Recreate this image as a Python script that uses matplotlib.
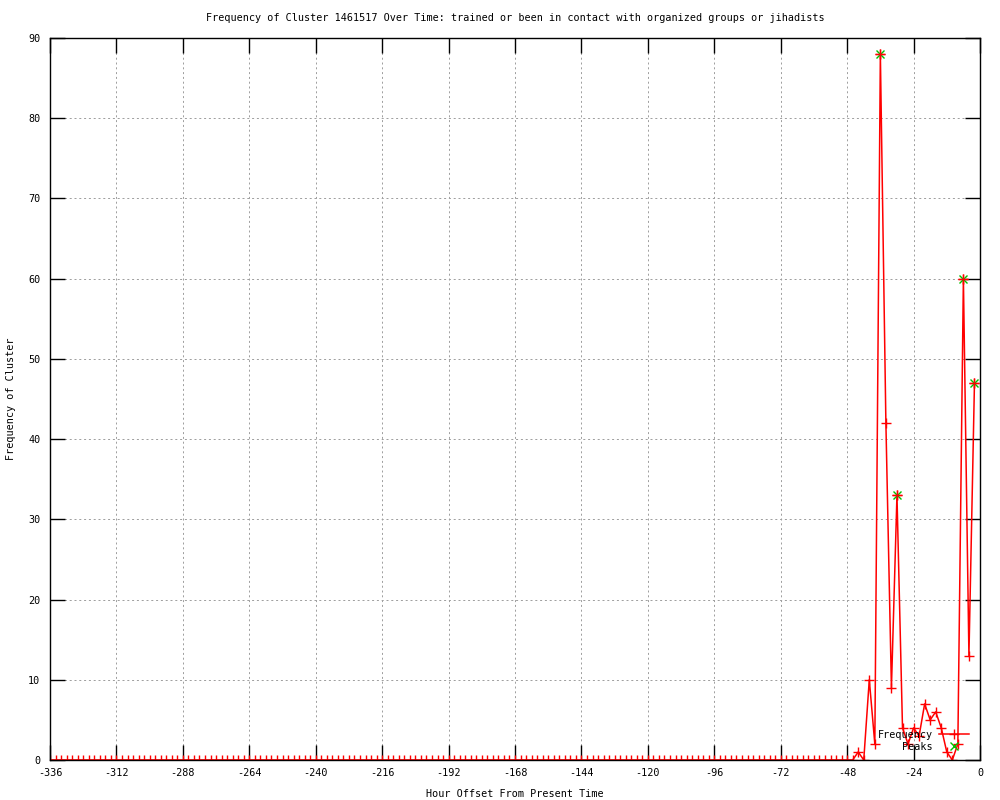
"""
Frequency of one cluster over time, gnuplot-style line + points chart.
Saves out.png (1000x800).
"""

import numpy as np
import matplotlib.pyplot as plt
from matplotlib.lines import Line2D

TITLE = ("Frequency of Cluster 1461517 Over Time: trained or been in contact "
         "with organized groups or jihadists")

# one sample every two hours, -336 .. -2
HOURS = np.arange(-336, 0, 2)
FREQ = [0] * 146 + [
    1, 0, 10, 2, 88, 42, 9, 33, 4, 2, 4,
    3, 7, 5, 6, 4, 1, 0, 2, 60, 13, 47,
]
PEAK_HOURS = [-36, -30, -6, -2]
PEAK_VALUES = [88, 33, 60, 47]

X_TICKS = list(range(-336, 1, 24))
Y_TICKS = list(range(0, 91, 10))

RED = "#ff0000"
GREEN = "#00c000"
FONT = "DejaVu Sans Mono"
FS = 7.3


def main():
    plt.rcParams["font.family"] = FONT
    fig = plt.figure(figsize=(10, 8), dpi=100)
    fig.patch.set_facecolor("white")
    ax = fig.add_axes([0.05, 0.05, 0.93, 0.9025])

    ax.plot(HOURS, FREQ, color=RED, linewidth=1.1, marker="+",
            markersize=7, markeredgewidth=1.0, zorder=2)
    ax.plot(PEAK_HOURS, PEAK_VALUES, linestyle="none", color=GREEN,
            marker="x", markersize=5.5, markeredgewidth=1.0, zorder=3)
    # red crosses sit on top of the green ones in the original
    ax.plot(PEAK_HOURS, PEAK_VALUES, linestyle="none", color=RED,
            marker="+", markersize=7, markeredgewidth=1.0, zorder=4)

    ax.set_xlim(-336, 0)
    ax.set_ylim(0, 90)
    ax.set_xticks(X_TICKS)
    ax.set_yticks(Y_TICKS)
    ax.set_xticklabels([str(t) for t in X_TICKS])
    ax.set_yticklabels([str(t) for t in Y_TICKS])

    ax.tick_params(direction="in", length=11, width=1, top=True, right=True,
                   labelsize=FS, colors="black")
    ax.tick_params(axis="x", pad=6)
    ax.tick_params(axis="y", pad=7)
    for s in ax.spines.values():
        s.set_linewidth(1.0)
        s.set_color("black")

    ax.grid(True, color="#a0a0a0", linewidth=0.72,
            linestyle=(0, (2.0, 2.8)))
    ax.set_axisbelow(True)

    ax.set_title(TITLE, fontsize=FS, pad=12)
    ax.set_xlabel("Hour Offset From Present Time", fontsize=FS, labelpad=8)
    ax.set_ylabel("Frequency of Cluster", fontsize=FS, labelpad=9)

    handles = [
        Line2D([], [], color=RED, linewidth=1.1, marker="+", markersize=7,
               markeredgewidth=1.0),
        Line2D([], [], color=GREEN, linestyle="none", marker="x",
               markersize=5.5, markeredgewidth=1.0),
    ]
    ax.legend(handles, ["Frequency", "Peaks"], loc="lower right",
              bbox_to_anchor=(0.997, 0.0), markerfirst=False, frameon=False,
              fontsize=FS, handlelength=3.0, handletextpad=0.6,
              labelspacing=0.2, borderpad=0.3)

    fig.savefig("out.png", dpi=100, facecolor="white")
    plt.close(fig)


if __name__ == "__main__":
    main()
